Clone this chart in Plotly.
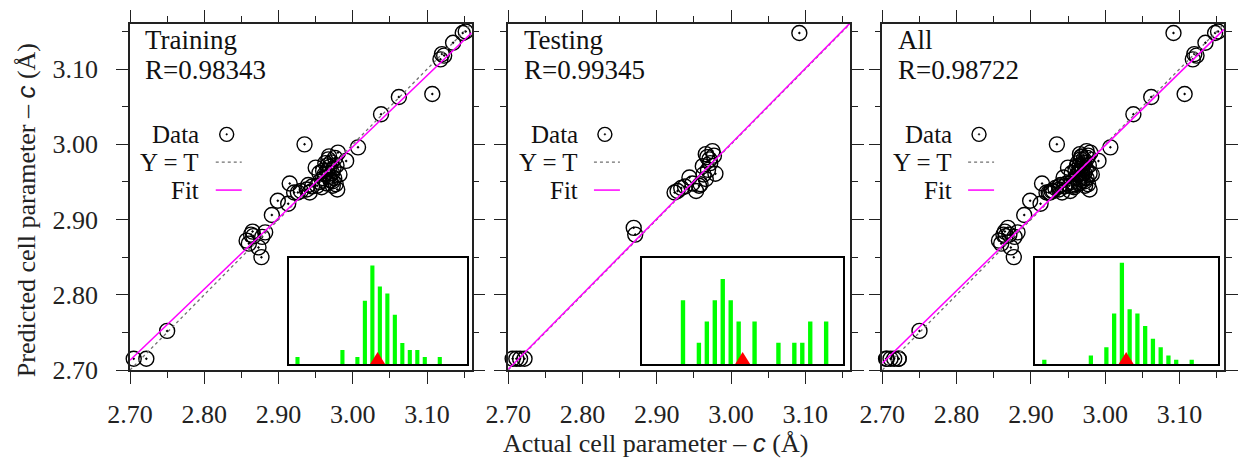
import numpy as np
import plotly.graph_objects as go

# ---------------- data ----------------
train_actual = [2.705, 2.722, 2.750, 2.857, 2.860, 2.863, 2.865, 2.866, 2.873, 2.878,
                2.877, 2.882, 2.891, 2.899, 2.913, 2.915, 2.921, 2.926, 2.930, 2.935,
                2.938, 2.942, 2.945, 2.950, 2.952, 2.955, 2.958, 2.960, 2.962, 2.963,
                2.965, 2.966, 2.967, 2.968, 2.969, 2.970, 2.971, 2.972, 2.973, 2.974,
                2.975, 2.976, 2.977, 2.978, 2.979, 2.980, 2.982, 2.991, 3.007, 3.038,
                3.062, 3.107, 3.118, 3.120, 3.123, 3.135, 3.148, 3.152, 2.960, 2.966,
                2.955, 2.940, 2.968, 2.973]
train_pred = [2.715, 2.715, 2.752, 2.872, 2.868, 2.880, 2.884, 2.878, 2.863, 2.877,
              2.850, 2.883, 2.906, 2.925, 2.921, 2.948, 2.936, 2.936, 2.938, 3.000,
              2.940, 2.936, 2.944, 2.969, 2.945, 2.950, 2.943, 2.955, 2.960, 2.975,
              2.948, 2.965, 2.980, 2.958, 2.970, 2.952, 2.976, 2.962, 2.945, 2.968,
              2.955, 2.982, 2.947, 2.972, 2.940, 2.989, 2.960, 2.978, 2.996, 3.040,
              3.063, 3.067, 3.113, 3.120, 3.118, 3.135, 3.148, 3.150, 2.965, 2.972,
              2.962, 2.946, 2.984, 2.951]

test_actual = [2.706, 2.711, 2.716, 2.722, 2.869, 2.871, 2.924, 2.928, 2.933, 2.938,
               2.944, 2.948, 2.953, 2.957, 2.959, 2.962, 2.963, 2.966, 2.966, 2.969,
               2.971, 2.972, 2.975, 2.979, 2.977, 2.968, 3.092]
test_pred = [2.715, 2.715, 2.715, 2.715, 2.889, 2.880, 2.936, 2.938, 2.942, 2.944,
             2.956, 2.948, 2.938, 2.945, 2.947, 2.971, 2.960, 2.954, 2.987, 2.966,
             2.980, 2.975, 2.991, 2.961, 2.985, 2.983, 3.148]

all_actual = train_actual + test_actual
all_pred = train_pred + test_pred

# fitted lines: pred = slope * actual + intercept
fit_slopes = [0.946, 1.000, 0.965]
fit_intercepts = [0.1588, 0.001, 0.1035]

panel_names = ["Training", "Testing", "All"]
r_texts = ["R=0.98343", "R=0.99345", "R=0.98722"]
legend_labels = ["Data", "Y = T", "Fit"]

tick_vals = [2.70, 2.80, 2.90, 3.00, 3.10]
tick_text = ["2.70", "2.80", "2.90", "3.00", "3.10"]
minor_vals = [2.75, 2.85, 2.95, 3.05, 3.15]
axis_range = [2.70, 3.16]

train_hist_bins = [0, 6, 8, 9, 10, 11, 12, 13, 14, 15, 16, 17, 19]
train_hist_counts = [1, 2, 1, 9, 14, 11, 10, 7, 3, 2, 2, 1, 1]
test_hist_bins = [0, 2, 3, 4, 5, 6, 7, 9, 12, 14, 15, 16, 18]
test_hist_counts = [3, 1, 2, 3, 4, 3, 2, 2, 1, 1, 1, 2, 2]
all_hist_bins = [0, 6, 8, 9, 10, 11, 12, 13, 14, 15, 16, 17, 19]
all_hist_counts = [1, 2, 4, 12, 24, 13, 12, 9, 6, 4, 2, 1, 1]
hist_mean_bins = [10.7, 7.5, 10.55]

# ---------------- style / layout ----------------
FONT = "Liberation Serif"
FS_TXT = 27
FS_LEG = 25
FS_TICK = 26
FS_TITLE = 26
W, H = 1248, 458
ML, MR, MT, MB = 130, 10, 22, 88
AX = "#222222"

main_dom = [[0.0, 0.3123], [0.3457, 0.6580], [0.6877, 1.0]]
inset_x_dom = [[0.1453, 0.3078], [0.4684, 0.6516], [0.8276, 0.9946]]
inset_y_dom = [0.0172, 0.3247]
inset_x_range = [[-1.14, 22.6], [-5.1, 20.1], [-1.15, 22.4]]
inset_y_range = [[0, 15.1], [0, 5.0], [0, 25.2]]
legend_y = [0.681, 0.601, 0.520]

datasets = [(train_actual, train_pred), (test_actual, test_pred), (all_actual, all_pred)]
hists = [(train_hist_bins, train_hist_counts), (test_hist_bins, test_hist_counts),
         (all_hist_bins, all_hist_counts)]

fig = go.Figure()
layout = dict(
    width=W, height=H, margin=dict(l=ML, r=MR, t=MT, b=MB, pad=0),
    paper_bgcolor="white", plot_bgcolor="white", showlegend=False,
    font=dict(family=FONT, size=FS_TICK, color=AX),
)
annotations = []
shapes = []

for i in range(3):
    s = "" if i == 0 else str(i + 1)
    xa, ya = "x" + s, "y" + s
    si = str(i + 4)
    xi, yi = "x" + si, "y" + si
    xs, ys = datasets[i]

    fig.add_trace(go.Scatter(
        x=xs, y=ys, mode="markers", xaxis=xa, yaxis=ya, cliponaxis=False,
        marker=dict(symbol="circle-open-dot", size=15, color="black",
                    line=dict(width=1.4, color="black"))))
    fig.add_trace(go.Scatter(
        x=axis_range, y=axis_range, mode="lines", xaxis=xa, yaxis=ya,
        line=dict(color="#707070", dash="dot", width=1.3)))
    fx = np.array(axis_range)
    fig.add_trace(go.Scatter(
        x=fx, y=fit_slopes[i] * fx + fit_intercepts[i], mode="lines", xaxis=xa, yaxis=ya,
        line=dict(color="#ff00ff", width=1.5)))

    bins, counts = hists[i]
    fig.add_trace(go.Bar(x=bins, y=counts, width=0.55, xaxis=xi, yaxis=yi,
                         marker=dict(color="#00ff00", line=dict(width=0))))

    axcommon = dict(
        range=axis_range, tickvals=tick_vals, ticktext=tick_text,
        ticks="outside", ticklen=12, tickwidth=1.3, tickcolor=AX,
        showline=True, linecolor=AX, linewidth=1.5, mirror="ticks",
        showgrid=False, zeroline=False,
        minor=dict(tickvals=minor_vals, ticks="outside", ticklen=6, tickwidth=1.3,
                   tickcolor=AX, showgrid=False),
        tickfont=dict(family=FONT, size=FS_TICK, color=AX),
    )
    layout["xaxis" + s] = dict(axcommon, domain=main_dom[i], anchor=ya, ticklabelstandoff=8)
    layout["yaxis" + s] = dict(axcommon, domain=[0, 1], anchor=xa, ticklabelstandoff=13,
                               showticklabels=(i == 0))

    layout["xaxis" + si] = dict(domain=inset_x_dom[i], range=inset_x_range[i], anchor=yi,
                                showline=True, linecolor="black", linewidth=2, mirror=True,
                                showticklabels=False, ticks="", showgrid=False, zeroline=False)
    layout["yaxis" + si] = dict(domain=inset_y_dom, range=inset_y_range[i], anchor=xi,
                                showline=True, linecolor="black", linewidth=2, mirror=True,
                                showticklabels=False, ticks="", showgrid=False, zeroline=False)

    # red mean marker (pixel-sized triangle sitting on the baseline)
    shapes.append(dict(type="path", xref=xi, yref=yi, xsizemode="pixel", ysizemode="pixel",
                       xanchor=hist_mean_bins[i], yanchor=0,
                       path="M-7.5,0 L7.5,0 L0,12 Z", fillcolor="#ff0000",
                       line=dict(width=0), layer="above"))

    # panel texts
    dref_x, dref_y = xa + " domain", ya + " domain"
    annotations.append(dict(text=panel_names[i], xref=dref_x, yref=dref_y, x=0.042, y=0.954,
                            xanchor="left", yanchor="middle", showarrow=False, borderpad=0,
                            font=dict(family=FONT, size=FS_TXT, color="#111")))
    annotations.append(dict(text=r_texts[i], xref=dref_x, yref=dref_y, x=0.042, y=0.866,
                            xanchor="left", yanchor="middle", showarrow=False, borderpad=0,
                            font=dict(family=FONT, size=FS_TXT, color="#111")))
    for lab, ly in zip(legend_labels, legend_y):
        annotations.append(dict(text=lab, xref=dref_x, yref=dref_y, x=0.206, y=ly,
                                xanchor="right", yanchor="middle", showarrow=False,
                                borderpad=0,
                                font=dict(family=FONT, size=FS_LEG, color="#111")))
    # legend samples
    shapes.append(dict(type="circle", xref=dref_x, yref=dref_y, xsizemode="pixel",
                       ysizemode="pixel", xanchor=0.283, yanchor=legend_y[0],
                       x0=-7, x1=7, y0=-7, y1=7, line=dict(color="black", width=1.4)))
    shapes.append(dict(type="circle", xref=dref_x, yref=dref_y, xsizemode="pixel",
                       ysizemode="pixel", xanchor=0.283, yanchor=legend_y[0],
                       x0=-0.8, x1=0.8, y0=-0.8, y1=0.8, fillcolor="black",
                       line=dict(color="black", width=0.5)))
    shapes.append(dict(type="line", xref=dref_x, yref=dref_y, x0=0.251, x1=0.327,
                       y0=legend_y[1], y1=legend_y[1],
                       line=dict(color="#707070", dash="dot", width=1.3)))
    shapes.append(dict(type="line", xref=dref_x, yref=dref_y, x0=0.251, x1=0.327,
                       y0=legend_y[2], y1=legend_y[2], line=dict(color="#ff00ff", width=1.5)))

# axis titles
annotations.append(dict(
    text='Actual cell parameter – <span style="font-family:Liberation Sans"><i>c</i></span> (Å)',
    xref="paper", yref="paper", x=0.48, y=-0.21, xanchor="center", yanchor="middle",
    showarrow=False, font=dict(family=FONT, size=FS_TITLE, color=AX)))
annotations.append(dict(
    text='Predicted cell parameter – <span style="font-family:Liberation Sans"><i>c</i></span> (Å)',
    xref="paper", yref="paper", x=-0.0948, y=0.4626, xanchor="center", yanchor="middle",
    textangle=-90, showarrow=False, font=dict(family=FONT, size=FS_TITLE, color=AX)))

layout["annotations"] = annotations
layout["shapes"] = shapes
fig.update_layout(**layout)
fig.write_html("out.html")
